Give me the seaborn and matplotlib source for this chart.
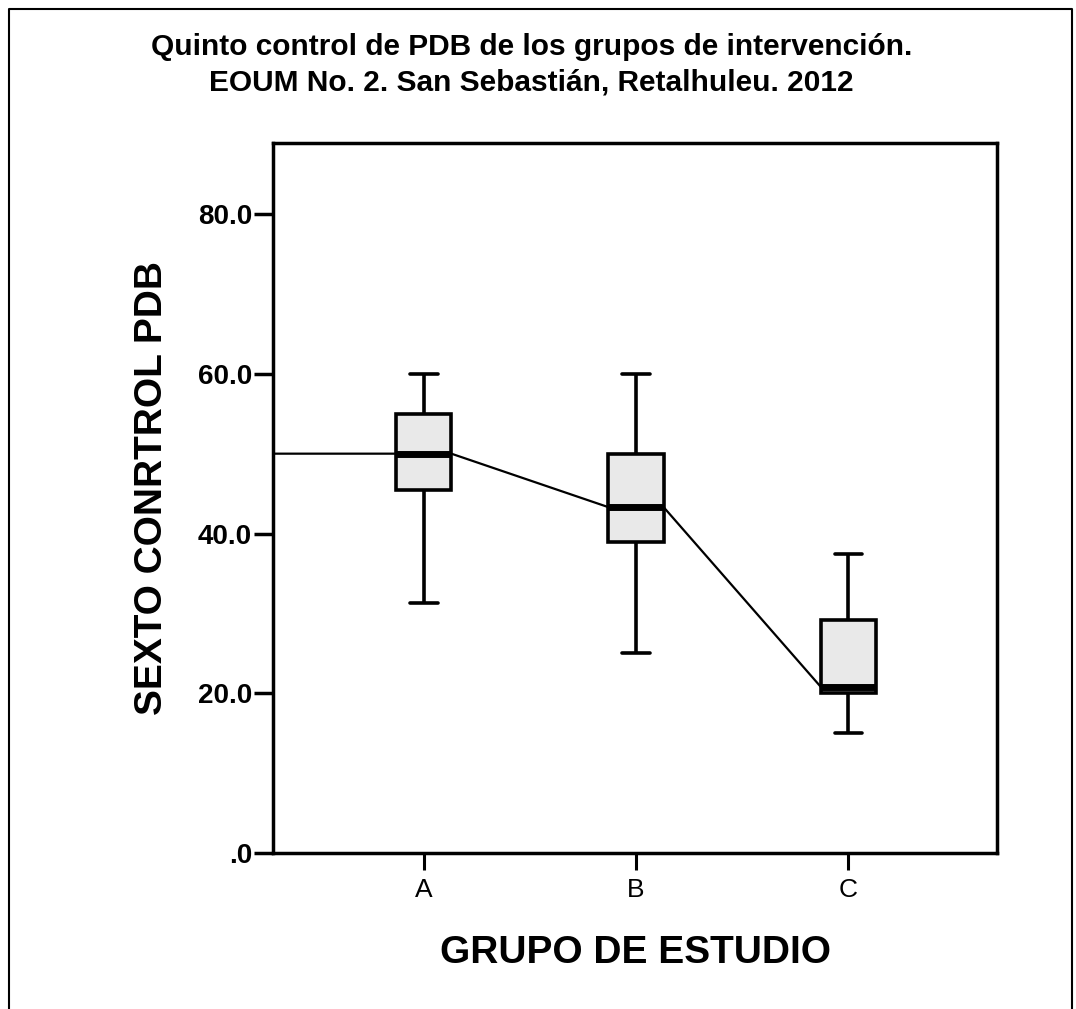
import numpy as np
import pandas as pd
import matplotlib
matplotlib.use("Agg")
import matplotlib.pyplot as plt
import seaborn as sns
from matplotlib.lines import Line2D
from matplotlib.ticker import FuncFormatter

# five-number summaries (min, Q1, median, Q3, max)
grupos = ["A", "B", "C"]
resumen_a = [31.3, 45.5, 50.0, 55.0, 60.0]
resumen_b = [25.0, 39.0, 43.3, 50.0, 60.0]
resumen_c = [15.0, 20.0, 20.8, 29.2, 37.5]
y_ticks = [0, 20, 40, 60, 80]

titulo = "Quinto control de PDB de los grupos de intervención.\nEOUM No. 2. San Sebastián, Retalhuleu. 2012"
x_label = "GRUPO DE ESTUDIO"
y_label = "SEXTO CONRTROL PDB"

df = pd.DataFrame({
    "grupo": np.repeat(grupos, 5),
    "pdb": resumen_a + resumen_b + resumen_c,
})
medianas = df.groupby("grupo")["pdb"].median().reindex(grupos).values

sns.set_style("white")
plt.rcParams["font.family"] = ["Liberation Sans", "DejaVu Sans"]
plt.rcParams["text.color"] = "black"
plt.rcParams["axes.labelcolor"] = "black"
plt.rcParams["xtick.color"] = "black"
plt.rcParams["ytick.color"] = "black"

fig = plt.figure(figsize=(10.76, 10.09), dpi=100)
ax = fig.add_axes([0.2537, 0.1546, 0.6729, 0.7037])

x_min, x_max = -0.71, 2.70
ancho = 0.26

sns.boxplot(data=df, x="grupo", y="pdb", order=grupos, whis=np.inf, width=ancho,
            color="#e9e9e9", saturation=1, linewidth=2.6, linecolor="black",
            medianprops=dict(color="black", lw=5),
            capprops=dict(color="black", lw=2.6),
            whiskerprops=dict(color="black", lw=2.6),
            boxprops=dict(edgecolor="black", lw=2.6),
            ax=ax)
for line in ax.lines:
    line.set_zorder(3)
for patch in ax.patches:
    patch.set_zorder(2)

# line joining medians at the box edges, starting from the left axis (behind boxes)
xs, ys = [x_min], [medianas[0]]
for i, m in enumerate(medianas):
    xs += [i - ancho / 2, i + ancho / 2]
    ys += [m, m]
ax.plot(xs[:-1], ys[:-1], color="black", lw=1.6, zorder=1)

ax.set_xlim(x_min, x_max)
ax.set_ylim(0, 88.9)
ax.set_yticks(y_ticks)
ax.yaxis.set_major_formatter(FuncFormatter(lambda v, p: f"{v:.1f}".lstrip("0") if v < 1 else f"{v:.1f}"))

for s in ax.spines.values():
    s.set_visible(True)
    s.set_color("black")
    s.set_linewidth(2.5)

ax.tick_params(axis="y", direction="out", length=14, width=2.5, pad=1,
               labelsize=20, left=True)
ax.tick_params(axis="x", direction="out", length=12, width=2.2, pad=6,
               labelsize=19, bottom=True)
for lab in ax.get_yticklabels():
    lab.set_fontweight("bold")

ax.set_xlabel(x_label, fontsize=28, fontweight="bold", labelpad=24)
ax.set_ylabel(y_label, fontsize=28, fontweight="bold")
ax.yaxis.set_label_coords(-0.142, 0.514)

fig.text(0.494, 0.936, titulo, ha="center", va="center", fontsize=21.5,
         fontweight="bold", linespacing=1.35)

# outer frame (no bottom edge)
fl, fr, ft = 9 / 1076, 1072 / 1076, 1 - 9 / 1009
fig.add_artist(Line2D([fl, fl, fr, fr], [0, ft, ft, 0], color="black", lw=1.5))

fig.savefig("out.png", dpi=100)
